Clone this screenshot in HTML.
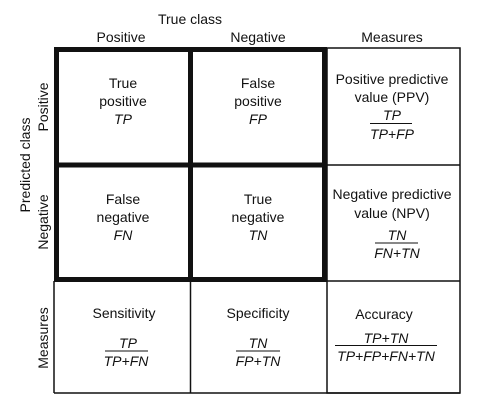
<!DOCTYPE html>
<html><head><meta charset="utf-8"><style>
html,body{margin:0;padding:0;background:#fff}
svg{display:block}
text{font-family:"Liberation Sans",Arial,sans-serif;font-size:14px;fill:#111;text-anchor:middle}
.i{font-style:italic}
</style></head><body>
<svg width="497" height="407" viewBox="0 0 497 407">
<g stroke="#111" fill="none">
<rect x="327" y="48" width="133" height="345" stroke-width="1.5"/>
<line x1="54" y1="281" x2="54" y2="393" stroke-width="1.5"/>
<line x1="54" y1="393" x2="460" y2="393" stroke-width="1.5"/>
<line x1="190.5" y1="281" x2="190.5" y2="393" stroke-width="1.5"/>
<line x1="327" y1="165" x2="460" y2="165" stroke-width="1.5"/>
<line x1="327" y1="281" x2="460" y2="281" stroke-width="1.5"/>
<rect x="56.5" y="49.5" width="268" height="230" stroke-width="5"/>
<line x1="190.5" y1="49.5" x2="190.5" y2="279.5" stroke-width="5"/>
<line x1="56.5" y1="165" x2="324.5" y2="165" stroke-width="5"/>
</g>
<text x="190" y="24">True class</text>
<text x="121" y="42">Positive</text>
<text x="258" y="42">Negative</text>
<text x="392" y="42">Measures</text>
<text transform="translate(30,165) rotate(-90)">Predicted class</text>
<text transform="translate(48,107) rotate(-90)">Positive</text>
<text transform="translate(48,222) rotate(-90)">Negative</text>
<text transform="translate(48,338) rotate(-90)">Measures</text>
<g><text x="123" y="88">True</text><text x="123" y="106">positive</text><text class="i" x="123" y="124">TP</text></g>
<g><text x="258" y="88">False</text><text x="258" y="106">positive</text><text class="i" x="258" y="124">FP</text></g>
<g><text x="123" y="204">False</text><text x="123" y="222">negative</text><text class="i" x="123" y="240">FN</text></g>
<g><text x="258" y="204">True</text><text x="258" y="222">negative</text><text class="i" x="258" y="240">TN</text></g>
<g><text x="392" y="84">Positive predictive</text><text x="392" y="102">value (PPV)</text><text class="i" x="392" y="120">TP</text><line x1="370" y1="123.5" x2="412" y2="123.5" stroke="#111" stroke-width="1"/><text class="i" x="392" y="139">TP+FP</text></g>
<g><text x="392" y="199">Negative predictive</text><text x="392" y="218">value (NPV)</text><text class="i" x="397" y="240">TN</text><line x1="375" y1="243" x2="418" y2="243" stroke="#111" stroke-width="1"/><text class="i" x="397" y="258">FN+TN</text></g>
<g><text x="124" y="318">Sensitivity</text><text class="i" x="128" y="348">TP</text><line x1="105" y1="351" x2="148" y2="351" stroke="#111" stroke-width="1"/><text class="i" x="126" y="366">TP+FN</text></g>
<g><text x="258" y="318">Specificity</text><text class="i" x="258" y="348">TN</text><line x1="236" y1="351" x2="280" y2="351" stroke="#111" stroke-width="1"/><text class="i" x="258" y="366">FP+TN</text></g>
<g><text x="384" y="319">Accuracy</text><text class="i" x="386" y="343">TP+TN</text><line x1="335" y1="345.5" x2="437" y2="345.5" stroke="#111" stroke-width="1"/><text class="i" x="386" y="361">TP+FP+FN+TN</text></g>
</svg>
</body></html>
